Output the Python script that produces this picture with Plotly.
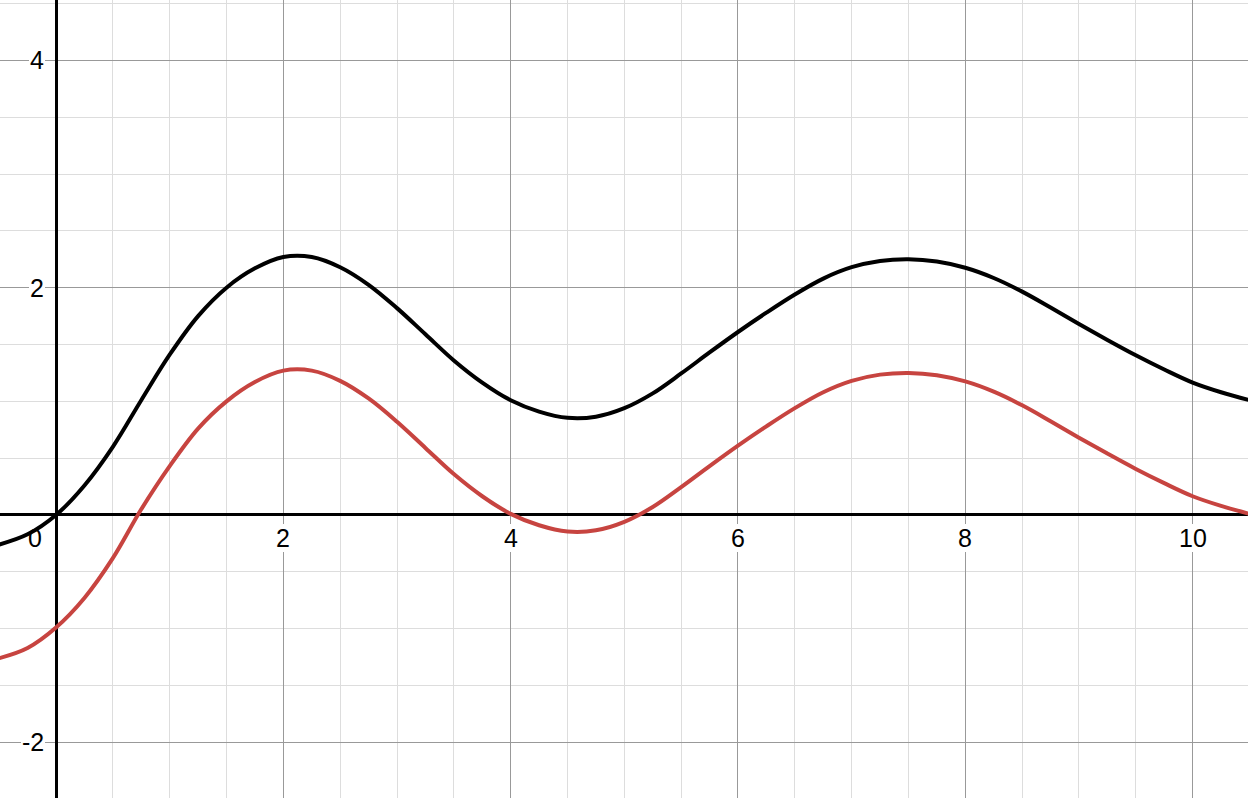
import plotly.graph_objects as go

x_vals = [-0.5, -0.25, 0, 0.25, 0.5, 0.75, 1.0, 1.25, 1.5, 1.75, 2.0, 2.25, 2.5, 2.75,
          3.0, 3.25, 3.5, 3.75, 4.0, 4.25, 4.5, 4.75, 5.0, 5.25, 5.5, 5.75, 6.0, 6.25,
          6.5, 6.75, 7.0, 7.25, 7.5, 7.75, 8.0, 8.25, 8.5, 8.75, 9.0, 9.25, 9.5, 9.75,
          10.0, 10.25, 10.5]

black_vals = [-0.26, -0.17, 0.0, 0.26, 0.60, 1.01, 1.41, 1.75, 2.00, 2.17, 2.27, 2.27, 2.18, 2.025,
              1.82, 1.59, 1.36, 1.165, 1.01, 0.91, 0.855, 0.865, 0.94, 1.07, 1.245, 1.43, 1.61, 1.78,
              1.94, 2.08, 2.18, 2.235, 2.25, 2.23, 2.175, 2.085, 1.965, 1.825, 1.68, 1.54, 1.405, 1.28,
              1.165, 1.08, 1.01]

red_vals = [-1.26, -1.17, -0.99, -0.73, -0.38, 0.05, 0.43, 0.76, 1.00, 1.17, 1.27, 1.27, 1.18, 1.025,
            0.82, 0.59, 0.36, 0.165, 0.01, -0.09, -0.145, -0.135, -0.06, 0.07, 0.245, 0.43, 0.61, 0.78,
            0.94, 1.08, 1.18, 1.235, 1.25, 1.23, 1.175, 1.085, 0.965, 0.825, 0.68, 0.54, 0.405, 0.28,
            0.165, 0.08, 0.01]

x_ticks = [2, 4, 6, 8, 10]
x_tick_labels = ["2", "4", "6", "8", "10"]
y_ticks = [4, 2, -2]
y_tick_labels = ["4", "2", "-2"]
origin_label = "0"

fig = go.Figure()
fig.add_trace(go.Scatter(x=x_vals, y=black_vals, mode="lines",
                         line=dict(color="#000000", width=4, shape="spline", smoothing=1.0),
                         hoverinfo="skip"))
fig.add_trace(go.Scatter(x=x_vals, y=red_vals, mode="lines",
                         line=dict(color="#c74440", width=4, shape="spline", smoothing=1.0),
                         hoverinfo="skip"))

font = dict(family="Liberation Sans, Arial, sans-serif", size=25, color="#000000")
annotations = []
for v, t in zip(x_ticks, x_tick_labels):
    annotations.append(dict(x=v, y=0, xref="x", yref="y", text=t, showarrow=False,
                            xanchor="center", yanchor="middle", yshift=-23, font=font,
                            bgcolor="white", borderpad=0, borderwidth=0))
for v, t in zip(y_ticks, y_tick_labels):
    annotations.append(dict(x=0, y=v, xref="x", yref="y", text=t, showarrow=False,
                            xanchor="right", yanchor="middle", xshift=-11, font=font,
                            bgcolor="white", borderpad=1, borderwidth=0))
annotations.append(dict(x=0, y=0, xref="x", yref="y", text=origin_label, showarrow=False,
                        xanchor="right", yanchor="middle", xshift=-12, yshift=-23, font=font))

axis_common = dict(
    showgrid=True, gridcolor="#999999", gridwidth=1.3,
    zeroline=True, zerolinecolor="#000000", zerolinewidth=2.7,
    showticklabels=False, ticks="", showline=False,
    tick0=0, dtick=2,
    minor=dict(dtick=0.5, tick0=0, showgrid=True, gridcolor="#dddddd", gridwidth=1.3, ticks=""),
    fixedrange=True,
)

fig.update_layout(
    width=1248, height=798,
    margin=dict(l=0, r=0, t=0, b=0),
    paper_bgcolor="white", plot_bgcolor="white",
    showlegend=False,
    xaxis=dict(range=[-0.4927, 10.487], **axis_common),
    yaxis=dict(range=[-2.490, 4.531], **axis_common),
    annotations=annotations,
)

fig.write_html("out.html", config={"displayModeBar": False},
               post_script="document.body.style.margin='0';document.body.style.overflow='hidden';")
